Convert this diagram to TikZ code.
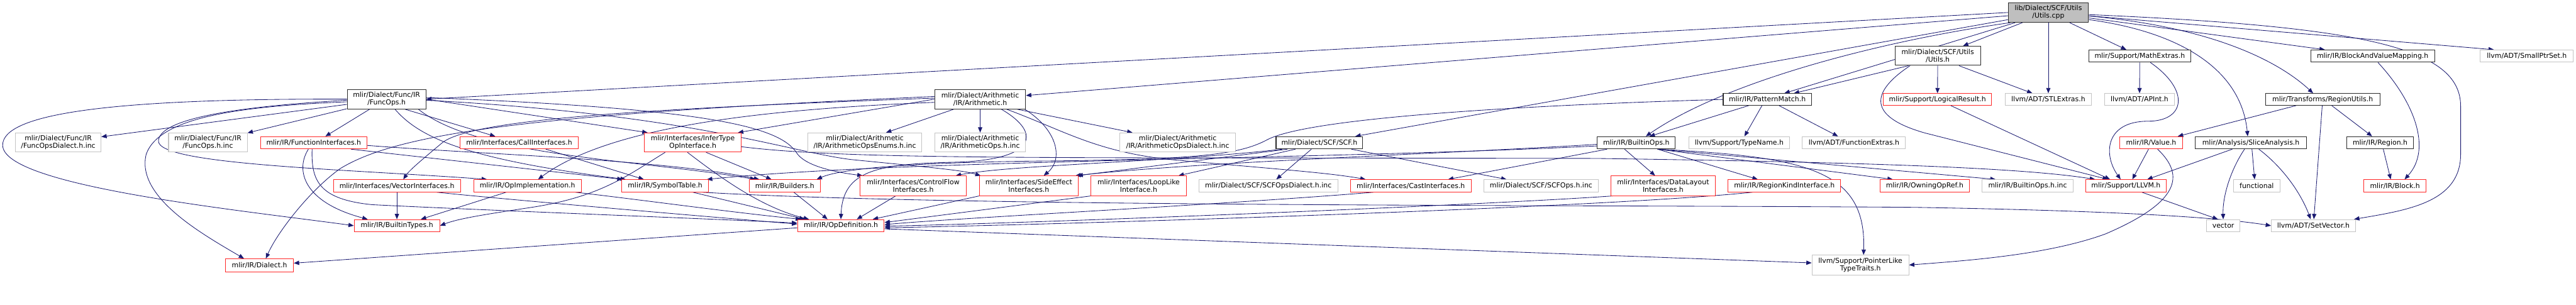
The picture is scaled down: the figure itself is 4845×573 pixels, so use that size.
\documentclass[tikz,border=0pt]{standalone}
\usepackage{fontspec}
\newfontfamily\dvs{DejaVu Sans}
\usetikzlibrary{arrows.meta}
\definecolor{edgec}{HTML}{191970}
\definecolor{redc}{HTML}{FF2626}
\definecolor{grayc}{HTML}{C4C4C4}
\definecolor{blackc}{HTML}{2A2A2A}
\definecolor{cppfill}{HTML}{BFBFBF}
\pgfdeclarelayer{edges}
\pgfsetlayers{edges,main}
\tikzset{
  nd/.style={rectangle, fill=white, line width=1.2pt, inner sep=0pt, align=center,
    font=\dvs\fontsize{12.9}{14}\selectfont, text=black},
  gnode/.style={nd, draw=grayc},
  rnode/.style={nd, draw=redc},
  bnode/.style={nd, draw=blackc},
  sz/.style 2 args={minimum width=#1pt, minimum height=#2pt},
  e/.style={draw=edgec, line width=1pt, -{Triangle[length=10pt,width=8pt]}}
}
\begin{document}
\begin{tikzpicture}[x=1pt,y=-1pt]
\useasboundingbox (0,0) rectangle (4845,573);
% row 1
\node[bnode, fill=cppfill, sz={151}{37}] (cpp) at (3852.5,23.5) {lib/Dialect/SCF/Utils\\/Utils.cpp};
% row 2
\node[bnode, sz={161}{36}] (utilsh) at (3644.5,105) {mlir/Dialect/SCF/Utils\\/Utils.h};
\node[bnode, sz={191}{23}] (mathext) at (4024.5,105.5) {mlir/Support/MathExtras.h};
\node[bnode, sz={233}{23}] (bvm) at (4462.5,105.5) {mlir/IR/BlockAndValueMapping.h};
\node[gnode, sz={175}{23}] (smallptr) at (4752.5,105.5) {llvm/ADT/SmallPtrSet.h};
% row 3
\node[bnode, sz={148}{37}] (funcops) at (727,186.5) {mlir/Dialect/Func/IR\\/FuncOps.h};
\node[bnode, sz={171}{37}] (arith) at (1843.5,186.5) {mlir/Dialect/Arithmetic\\/IR/Arithmetic.h};
\node[bnode, sz={166}{22}] (pattern) at (3324,187) {mlir/IR/PatternMatch.h};
\node[rnode, sz={204}{22}] (logical) at (3644,187) {mlir/Support/LogicalResult.h};
\node[gnode, sz={163}{22}] (stlext) at (3852.5,187) {llvm/ADT/STLExtras.h};
\node[gnode, sz={132}{22}] (apint) at (4024,187) {llvm/ADT/APInt.h};
\node[bnode, sz={215}{22}] (regionutils) at (4368.5,187) {mlir/Transforms/RegionUtils.h};
% row 4
\node[gnode, sz={161}{36}] (funcdialinc) at (109.5,268) {mlir/Dialect/Func/IR\\/FuncOpsDialect.h.inc};
\node[gnode, sz={148}{36}] (funcopsinc) at (391,268) {mlir/Dialect/Func/IR\\/FuncOps.h.inc};
\node[rnode, sz={200}{23}] (funcif) at (590,268.5) {mlir/IR/FunctionInterfaces.h};
\node[rnode, sz={223}{23}] (callif) at (976.5,268.5) {mlir/Interfaces/CallInterfaces.h};
\node[rnode, sz={182}{36}] (infer) at (1303,268) {mlir/Interfaces/InferType\\OpInterface.h};
\node[gnode, sz={215}{36}] (arithenums) at (1626.5,268) {mlir/Dialect/Arithmetic\\/IR/ArithmeticOpsEnums.h.inc};
\node[gnode, sz={171}{36}] (arithopsinc) at (1843.5,268) {mlir/Dialect/Arithmetic\\/IR/ArithmeticOps.h.inc};
\node[gnode, sz={218}{36}] (arithdial) at (2215,268) {mlir/Dialect/Arithmetic\\/IR/ArithmeticOpsDialect.h.inc};
\node[bnode, sz={163}{23}] (scf) at (2481.5,268.5) {mlir/Dialect/SCF/SCF.h};
\node[bnode, sz={147}{23}] (builtinops) at (3077.5,268.5) {mlir/IR/BuiltinOps.h};
\node[gnode, sz={190}{23}] (typename) at (3271,268.5) {llvm/Support/TypeName.h};
\node[gnode, sz={194}{23}] (funcext) at (3487,268.5) {llvm/ADT/FunctionExtras.h};
\node[rnode, sz={118}{23}] (valueh) at (4046,268.5) {mlir/IR/Value.h};
\node[bnode, sz={209}{23}] (slice) at (4233.5,268.5) {mlir/Analysis/SliceAnalysis.h};
\node[bnode, sz={125}{23}] (regionh) at (4476.5,268.5) {mlir/IR/Region.h};
% row 5
\node[rnode, sz={239}{23}] (vectorif) at (746.5,349.5) {mlir/Interfaces/VectorInterfaces.h};
\node[rnode, sz={202}{23}] (opimpl) at (992,349.5) {mlir/IR/OpImplementation.h};
\node[rnode, sz={164}{23}] (symtab) at (1251,349.5) {mlir/IR/SymbolTable.h};
\node[rnode, sz={134}{23}] (builders) at (1476,349.5) {mlir/IR/Builders.h};
\node[rnode, sz={199}{37}] (ctrlflow) at (1717.5,349.5) {mlir/Interfaces/ControlFlow\\Interfaces.h};
\node[rnode, sz={186}{37}] (sideeff) at (1935,349.5) {mlir/Interfaces/SideEffect\\Interfaces.h};
\node[rnode, sz={179}{37}] (looplike) at (2141.5,349.5) {mlir/Interfaces/LoopLike\\Interface.h};
\node[gnode, sz={261}{23}] (scfdialinc) at (2385.5,349.5) {mlir/Dialect/SCF/SCFOpsDialect.h.inc};
\node[rnode, sz={227}{23}] (castif) at (2653.5,349.5) {mlir/Interfaces/CastInterfaces.h};
\node[gnode, sz={215}{23}] (scfopsinc) at (2898.5,349.5) {mlir/Dialect/SCF/SCFOps.h.inc};
\node[rnode, sz={196}{37}] (datalayout) at (3128,349.5) {mlir/Interfaces/DataLayout\\Interfaces.h};
\node[rnode, sz={212}{23}] (regionkind) at (3356,349.5) {mlir/IR/RegionKindInterface.h};
\node[rnode, sz={168}{23}] (owning) at (3620,349.5) {mlir/IR/OwningOpRef.h};
\node[gnode, sz={171}{23}] (builtinopsinc) at (3813.5,349.5) {mlir/IR/BuiltinOps.h.inc};
\node[rnode, sz={151}{23}] (llvmh) at (3998.5,349.5) {mlir/Support/LLVM.h};
\node[gnode, sz={87}{23}] (functional) at (4244.5,349.5) {functional};
\node[rnode, sz={117}{23}] (blockh) at (4504.5,349.5) {mlir/IR/Block.h};
% row 6
\node[rnode, sz={161}{23}] (builtintypes) at (746.5,424.5) {mlir/IR/BuiltinTypes.h};
\node[rnode, sz={163}{23}] (opdef) at (1581.5,424.5) {mlir/IR/OpDefinition.h};
\node[gnode, sz={63}{23}] (vector) at (4181.5,424.5) {vector};
\node[gnode, sz={158}{23}] (setvec) at (4351,424.5) {llvm/ADT/SetVector.h};
% row 7
\node[rnode, sz={128}{24}] (dialect) at (488,499) {mlir/IR/Dialect.h};
\node[gnode, sz={182}{37}] (pointerlike) at (3499,498.5) {llvm/Support/PointerLike\\TypeTraits.h};

\begin{pgfonlayer}{edges}
% Utils.cpp
\draw[e] (cpp.west) -- (funcops.east);
\draw[e] (cpp) -- (arith);
\draw[e] (cpp) -- (scf);
\draw[e] (cpp.195) .. controls (3550,75) and (3250,150) .. ([xshift=18pt]builtinops.north);
\draw[e] (cpp) -- ([xshift=32pt]pattern.north);
\draw[e] (cpp) -- (utilsh);
\draw[e] (cpp) -- (stlext);
\draw[e] (cpp) -- (mathext);
\draw[e] (cpp.-10) .. controls (4100,60) and (4215,130) .. ([xshift=-6pt]slice.north);
\draw[e] (cpp.-5) .. controls (4150,50) and (4280,110) .. ([xshift=-18pt]regionutils.north);
\draw[e] (cpp) -- ([xshift=-90pt]bvm.north);
\draw[e] (cpp) -- ([xshift=-62pt]smallptr.north);
\draw[e] (cpp.-3) .. controls (4450,50) and (4628,90) .. (4628,200) -- (4628,290) .. controls (4628,380) and (4530,395) .. ([xshift=-3pt]setvec.north east);
% Utils.h
\draw[e] ([xshift=-55pt]utilsh.south) -- ([xshift=50pt]pattern.north);
\draw[e] ([xshift=-52pt]utilsh.south) .. controls (3515,175) and (3515,220) .. (3620,250) -- ([xshift=-34pt]llvmh.north);
\draw[e] (utilsh) -- (logical);
\draw[e] ([xshift=40pt]utilsh.south) -- ([xshift=-30pt]stlext.north);
% MathExtras
\draw[e] (mathext) -- (apint);
\draw[e] ([xshift=20pt]mathext.south) .. controls (4120,170) and (4110,228) .. (4040,228) .. controls (3960,228) and (3955,290) .. ([xshift=-10pt]llvmh.north);
% BlockAndValueMapping
\draw[e] ([xshift=10pt]bvm.south) .. controls (4540,190) and (4575,280) .. ([xshift=18pt]blockh.north);
% RegionUtils
\draw[e] ([xshift=17pt]regionutils.south) -- ([xshift=-15pt]regionh.north);
\draw[e] (regionutils) -- (setvec);
\draw[e] ([xshift=-50pt]regionutils.south) -- ([xshift=50pt]valueh.north);
\draw[e] ([xshift=6pt]regionh.south) -- ([xshift=-8pt]blockh.north);
% SliceAnalysis
\draw[e] ([xshift=-35pt]slice.south) -- ([xshift=40pt]llvmh.north);
\draw[e] ([xshift=-12pt]slice.south) .. controls (4195,320) and (4180,370) .. (vector.north);
\draw[e] ([xshift=2pt]slice.south) -- ([xshift=-4pt]functional.north);
\draw[e] ([xshift=15pt]slice.south) .. controls (4300,320) and (4330,370) .. ([xshift=-5pt]setvec.north);
% Value.h
\draw[e] ([xshift=-5pt]valueh.south) -- ([xshift=12pt]llvmh.north);
\draw[e] ([xshift=12pt]valueh.south) .. controls (4110,330) and (4100,380) .. (3960,440) .. controls (3850,480) and (3700,490) .. (pointerlike.east);
% LogicalResult, LLVM.h
\draw[e] ([xshift=25pt]logical.south) -- ([xshift=-30pt]llvmh.north);
\draw[e] ([xshift=30pt]llvmh.south) -- ([xshift=-10pt]vector.north);
% PatternMatch
\draw[e] ([xshift=-35pt]pattern.south) -- ([xshift=25pt]builtinops.north);
\draw[e] ([xshift=-10pt]pattern.south) -- ([xshift=10pt]typename.north);
\draw[e] ([xshift=22pt]pattern.south) -- ([xshift=-30pt]funcext.north);
\draw[e] (pattern.west) .. controls (2800,200) and (2460,225) .. (2385,262) .. controls (2330,292) and (2250,300) .. (1950,303) .. controls (1700,306) and (1580,318) .. ([xshift=60pt]builders.north);
% BuiltinOps
\draw[e] ([xshift=-22pt]builtinops.south) -- ([xshift=-15pt]datalayout.north);
\draw[e] ([xshift=40pt]builtinops.south) -- ([xshift=-50pt]regionkind.north);
\draw[e] ([xshift=40pt]builtinops.south) -- ([xshift=-60pt]owning.north);
\draw[e] ([xshift=40pt]builtinops.south) -- ([xshift=-60pt]builtinopsinc.north);
\draw[e] ([xshift=40pt]builtinops.south) .. controls (3400,295) and (3510,320) .. ([xshift=6pt]pointerlike.north);
\draw[e] ([xshift=-55pt]builtinops.south) -- ([xshift=70pt]castif.north);
\draw[e] ([yshift=-3pt]builtinops.west) .. controls (2700,290) and (2250,305) .. ([xshift=-6pt]sideeff.north east);
\draw[e] ([yshift=-6pt]builtinops.west) .. controls (2500,300) and (1700,300) .. ([xshift=-4pt]symtab.north east);
% SCF.h
\draw[e] ([xshift=-15pt]scf.south) -- ([xshift=15pt]scfdialinc.north);
\draw[e] ([xshift=60pt]scf.south) -- ([xshift=-65pt]scfopsinc.north);
\draw[e] ([xshift=-45pt]scf.south) -- ([xshift=75pt]looplike.north);
\draw[e] ([xshift=-60pt]scf.south) -- ([xshift=-2pt]sideeff.north east);
\draw[e] ([xshift=-70pt]scf.south) .. controls (2200,305) and (1900,310) .. ([xshift=80pt]ctrlflow.north);
% FuncOps.h
\draw[e] (funcops) -- (funcdialinc);
\draw[e] (funcops) -- (funcopsinc);
\draw[e] ([xshift=-32pt]funcops.south) -- ([xshift=22pt]funcif.north);
\draw[e] ([yshift=-5pt]funcops.west) .. controls (450,200) and (300,220) .. (275,290) .. controls (255,370) and (380,440) .. ([xshift=-29pt]dialect.north);
\draw[e] ([yshift=-2pt]funcops.west) .. controls (400,203) and (300,230) .. (298,265) .. controls (296,310) and (650,318) .. ([xshift=-76pt]opimpl.north);
\draw[e] (funcops.west) .. controls (200,185) and (5,215) .. (5,273) .. controls (5,350) and (450,395) .. (builtintypes.west);
\draw[e] ([xshift=35pt]funcops.south) -- ([xshift=-45pt]callif.north);
\draw[e] ([xshift=16pt]funcops.south) .. controls (790,260) and (880,300) .. ([xshift=-74pt]symtab.north);
\draw[e] (funcops.east) -- ([xshift=-85pt]infer.north);
\draw[e] ([yshift=3pt]funcops.east) .. controls (1350,205) and (1470,240) .. (1500,290) .. controls (1520,315) and (1580,325) .. ([xshift=5pt]ctrlflow.north west);
\draw[e] ([yshift=-2pt]funcops.east) .. controls (1300,215) and (1480,285) .. (1600,300) .. controls (1750,315) and (1810,320) .. ([xshift=3pt]sideeff.north west);
\draw[e] ([xshift=60pt]funcops.south) .. controls (900,295) and (1200,300) .. ([xshift=-55pt]builders.north);
% Arithmetic.h
\draw[e] (arith) -- (arithopsinc);
\draw[e] ([xshift=-50pt]arith.south) -- ([xshift=40pt]arithenums.north);
\draw[e] ([xshift=70pt]arith.south) -- ([xshift=-85pt]arithdial.north);
\draw[e] (arith.west) -- ([xshift=85pt]infer.north);
\draw[e] ([yshift=2pt]arith.west) .. controls (1200,205) and (880,225) .. (830,270) .. controls (800,295) and (770,320) .. ([xshift=12pt]vectorif.north);
\draw[e] ([yshift=5pt]arith.west) .. controls (1000,215) and (750,250) .. (640,317) .. controls (580,360) and (520,440) .. ([xshift=12pt]dialect.north);
\draw[e] ([yshift=-6pt]arith.west) .. controls (1450,205) and (1150,235) .. ([xshift=20pt]opimpl.north);
\draw[e] ([xshift=40pt]arith.south) .. controls (1960,250) and (1950,300) .. (1800,305) .. controls (1650,308) and (1585,320) .. (opdef.north);
\draw[e] ([xshift=84pt]arith.south) .. controls (1990,245) and (2000,300) .. ([xshift=28pt]sideeff.north);
\draw[e] ([xshift=50pt]arith.south) .. controls (2000,245) and (2060,285) .. (2200,300) .. controls (2400,318) and (2500,325) .. ([xshift=-85pt]castif.north);
% FunctionInterfaces
\draw[e] ([xshift=-10pt]funcif.south) .. controls (555,320) and (570,380) .. ([xshift=-55pt]builtintypes.north);
\draw[e] ([xshift=-3pt]funcif.south) .. controls (585,340) and (600,375) .. (700,385) .. controls (900,395) and (1300,410) .. ([yshift=5pt]opdef.west);
\draw[e] ([xshift=70pt]funcif.south) -- ([xshift=-80pt]symtab.north);
\draw[e] ([yshift=-5pt]funcif.east) .. controls (900,290) and (1250,300) .. ([xshift=-48pt]builders.north);
% CallInterfaces
\draw[e] ([xshift=50pt]callif.south) -- ([xshift=-40pt]symtab.north);
% InferTypeOpInterface
\draw[e] ([xshift=-52pt]infer.south) .. controls (1180,330) and (1130,370) .. (1000,390) .. controls (900,405) and (860,412) .. (builtintypes.east);
\draw[e] ([xshift=-10pt]infer.south) .. controls (1350,330) and (1430,390) .. ([xshift=-60pt]opdef.north);
\draw[e] ([xshift=25pt]infer.south) -- ([xshift=-25pt]builders.north);
\draw[e] ([yshift=-8pt]infer.east) .. controls (1550,295) and (1800,297) .. (2400,297) -- (3000,298) .. controls (3500,305) and (3800,315) .. ([xshift=-58pt]llvmh.north);
% VectorInterfaces, OpImplementation
\draw[e] (vectorif) -- (builtintypes);
\draw[e] ([xshift=75pt]vectorif.south) .. controls (950,375) and (1300,405) .. ([yshift=3pt]opdef.west);
\draw[e] ([xshift=-40pt]opimpl.south) -- ([xshift=45pt]builtintypes.north);
\draw[e] ([xshift=90pt]opimpl.south) .. controls (1200,375) and (1380,400) .. ([xshift=-75pt]opdef.north);
% SymbolTable, Builders and interfaces to OpDefinition
\draw[e] ([xshift=52pt]symtab.south) -- ([xshift=-68pt]opdef.north);
\draw[e] ([xshift=70pt]symtab.south) .. controls (1800,390) and (3000,385) .. (3600,390) .. controls (3900,395) and (4150,405) .. (setvec.west);
\draw[e] ([xshift=17pt]builders.south) -- ([xshift=-25pt]opdef.north);
\draw[e] ([xshift=-33pt]ctrlflow.south) -- ([xshift=30pt]opdef.north);
\draw[e] (sideeff.south west) -- ([xshift=60pt]opdef.north);
\draw[e] (looplike.south west) -- ([yshift=6pt]opdef.east);
\draw[e] ([xshift=-70pt]castif.south) .. controls (2300,385) and (1800,410) .. ([yshift=2pt]opdef.east);
\draw[e] ([xshift=-95pt]datalayout.south) .. controls (2800,385) and (2000,418) .. ([yshift=-1pt]opdef.east);
\draw[e] ([xshift=-60pt]regionkind.south) .. controls (3000,392) and (2000,422) .. ([yshift=-4pt]opdef.east);
% OpDefinition
\draw[e] ([yshift=-4pt]opdef.west) -- ([yshift=4pt]dialect.east);
\draw[e] ([yshift=-6pt]opdef.east) -- ([yshift=4pt]pointerlike.west);
\end{pgfonlayer}
\end{tikzpicture}
\end{document}
